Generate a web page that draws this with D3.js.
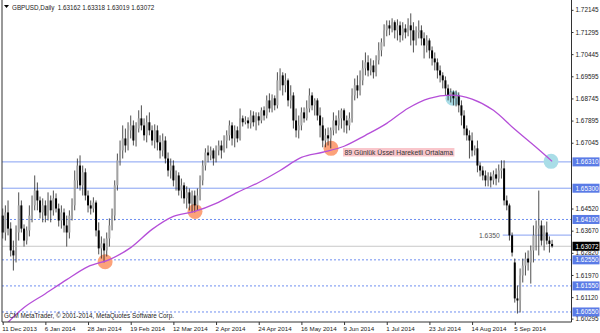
<!DOCTYPE html>
<html><head><meta charset="utf-8">
<script src="https://cdn.jsdelivr.net/npm/d3@7"></script>
<style>
body{margin:0;background:#fff}
svg{display:block;font-family:"Liberation Sans",Arial,sans-serif}
</style>
</head><body>
<svg id="chart" width="600" height="333"></svg>
<script>
// GBPUSD daily bars, 11 Dec 2013 .. late Sep 2014
const opens = [1.6425,1.6360,1.6437,1.6375,1.6291,1.6272,1.6360,1.6464,1.6375,1.6329,
  1.6368,1.6425,1.6464,1.6521,1.6483,1.6437,1.6464,1.6425,1.6483,1.6445,
  1.6491,1.6452,1.6406,1.6437,1.6387,1.6360,1.6425,1.6464,1.6560,1.6617,
  1.6541,1.6591,1.6502,1.6464,1.6452,1.6475,1.6368,1.6299,1.6318,1.6291,
  1.6337,1.6387,1.6425,1.6541,1.6637,1.6675,1.6721,1.6694,1.6752,1.6771,
  1.6713,1.6759,1.6798,1.6771,1.6733,1.6783,1.6752,1.6713,1.6752,1.6706,
  1.6675,1.6713,1.6644,1.6598,1.6617,1.6560,1.6579,1.6521,1.6541,1.6491,
  1.6514,1.6471,1.6502,1.6464,1.6502,1.6560,1.6617,1.6667,1.6656,1.6675,
  1.6644,1.6675,1.6694,1.6675,1.6713,1.6733,1.6771,1.6721,1.6752,1.6721,
  1.6798,1.6783,1.6790,1.6779,1.6809,1.6783,1.6806,1.6790,1.6829,1.6809,
  1.6867,1.6836,1.6875,1.6848,1.6944,1.6963,1.6925,1.6944,1.6867,1.6886,
  1.6790,1.6752,1.6771,1.6821,1.6798,1.6836,1.6886,1.6848,1.6867,1.6809,
  1.6771,1.6713,1.6733,1.6721,1.6752,1.6790,1.6771,1.6798,1.6829,1.6790,
  1.6771,1.6798,1.6886,1.6925,1.6905,1.6944,1.6990,1.7013,1.6982,1.7001,
  1.6975,1.7021,1.7059,1.7090,1.7136,1.7155,1.7143,1.7167,1.7136,1.7155,
  1.7117,1.7143,1.7128,1.7155,1.7136,1.7097,1.7128,1.7136,1.7105,1.7078,
  1.7097,1.7059,1.7028,1.7013,1.6982,1.6963,1.6944,1.6913,1.6886,1.6898,
  1.6875,1.6886,1.6848,1.6809,1.6759,1.6733,1.6713,1.6675,1.6683,1.6617,
  1.6598,1.6579,1.6560,1.6575,1.6560,1.6583,1.6567,1.6598,1.6606,1.6483,
  1.6464,1.6349,1.6245,1.6107,1.6099,1.6195,1.6233,1.6260,1.6245,1.6291,
  1.6349,1.6375,1.6387,1.6329,1.6360,1.6329,1.63162];
const highs = [1.6452,1.6464,1.6483,1.6399,1.6329,1.6387,1.6514,1.6483,1.6391,1.6383,
  1.6464,1.6502,1.6579,1.6552,1.6498,1.6491,1.6483,1.6514,1.6502,1.6521,
  1.6510,1.6471,1.6464,1.6452,1.6425,1.6445,1.6491,1.6598,1.6644,1.6656,
  1.6617,1.6606,1.6521,1.6483,1.6495,1.6483,1.6399,1.6345,1.6337,1.6360,
  1.6414,1.6452,1.6560,1.6663,1.6713,1.6771,1.6759,1.6783,1.6809,1.6790,
  1.6783,1.6829,1.6848,1.6798,1.6809,1.6821,1.6771,1.6775,1.6771,1.6733,
  1.6740,1.6729,1.6667,1.6644,1.6637,1.6598,1.6591,1.6567,1.6552,1.6537,
  1.6529,1.6521,1.6521,1.6529,1.6579,1.6637,1.6683,1.6694,1.6690,1.6683,
  1.6694,1.6713,1.6713,1.6733,1.6752,1.6790,1.6783,1.6771,1.6767,1.6836,
  1.6809,1.6806,1.6802,1.6829,1.6825,1.6821,1.6821,1.6840,1.6844,1.6886,
  1.6894,1.6890,1.6886,1.6975,1.6990,1.6975,1.6971,1.6951,1.6925,1.6898,
  1.6836,1.6809,1.6840,1.6840,1.6867,1.6913,1.6898,1.6875,1.6875,1.6840,
  1.6802,1.6759,1.6763,1.6763,1.6821,1.6809,1.6829,1.6836,1.6836,1.6809,
  1.6821,1.6913,1.6951,1.6963,1.6982,1.7021,1.7051,1.7040,1.7028,1.7021,
  1.7040,1.7090,1.7105,1.7159,1.7174,1.7174,1.7182,1.7174,1.7178,1.7170,
  1.7167,1.7159,1.7182,1.7201,1.7167,1.7151,1.7174,1.7155,1.7128,1.7117,
  1.7105,1.7074,1.7051,1.7028,1.7001,1.6975,1.6959,1.6928,1.6913,1.6905,
  1.6905,1.6898,1.6867,1.6829,1.6771,1.6752,1.6744,1.6694,1.6713,1.6629,
  1.6614,1.6598,1.6591,1.6591,1.6598,1.6606,1.6621,1.6637,1.6637,1.6502,
  1.6471,1.6360,1.6260,1.6157,1.6222,1.6260,1.6283,1.6291,1.6310,1.6387,
  1.6406,1.6521,1.6406,1.6387,1.6402,1.6345,1.63318];
const lows = [1.6337,1.6329,1.6349,1.6268,1.6214,1.6245,1.6329,1.6360,1.6306,1.6314,
  1.6345,1.6399,1.6445,1.6445,1.6414,1.6399,1.6399,1.6406,1.6399,1.6425,
  1.6437,1.6383,1.6375,1.6360,1.6306,1.6337,1.6406,1.6445,1.6529,1.6521,
  1.6502,1.6483,1.6437,1.6429,1.6437,1.6345,1.6276,1.6260,1.6245,1.6268,
  1.6306,1.6368,1.6406,1.6521,1.6617,1.6644,1.6667,1.6675,1.6721,1.6694,
  1.6690,1.6744,1.6752,1.6713,1.6706,1.6733,1.6694,1.6683,1.6675,1.6644,
  1.6652,1.6625,1.6575,1.6567,1.6537,1.6521,1.6502,1.6491,1.6471,1.6452,
  1.6445,1.6437,1.6437,1.6445,1.6483,1.6541,1.6598,1.6629,1.6637,1.6617,
  1.6629,1.6656,1.6644,1.6667,1.6683,1.6713,1.6694,1.6687,1.6706,1.6713,
  1.6767,1.6775,1.6759,1.6759,1.6767,1.6752,1.6771,1.6779,1.6790,1.6798,
  1.6821,1.6821,1.6829,1.6836,1.6905,1.6886,1.6898,1.6844,1.6836,1.6759,
  1.6725,1.6721,1.6752,1.6782,1.6790,1.6821,1.6829,1.6809,1.6790,1.6725,
  1.6687,1.6687,1.6694,1.6683,1.6733,1.6740,1.6752,1.6759,1.6744,1.6740,
  1.6752,1.6782,1.6867,1.6875,1.6886,1.6925,1.6963,1.6959,1.6963,1.6951,
  1.6959,1.7005,1.7036,1.7074,1.7113,1.7117,1.7128,1.7105,1.7097,1.7090,
  1.7097,1.7105,1.7113,1.7078,1.7051,1.7078,1.7105,1.7078,1.7028,1.7051,
  1.7028,1.7001,1.6982,1.6951,1.6936,1.6913,1.6886,1.6867,1.6859,1.6848,
  1.6844,1.6821,1.6771,1.6733,1.6713,1.6644,1.6652,1.6656,1.6591,1.6575,
  1.6560,1.6537,1.6537,1.6533,1.6544,1.6541,1.6552,1.6567,1.6464,1.6445,
  1.6329,1.6268,1.6091,1.6049,1.6053,1.6168,1.6195,1.6214,1.6164,1.6245,
  1.6291,1.6272,1.6310,1.6291,1.6314,1.6283,1.63019];
const closes = [1.6360,1.6437,1.6375,1.6291,1.6272,1.6360,1.6464,1.6375,1.6329,1.6368,
  1.6425,1.6464,1.6521,1.6483,1.6437,1.6464,1.6425,1.6483,1.6445,1.6491,
  1.6452,1.6406,1.6437,1.6387,1.6360,1.6425,1.6464,1.6560,1.6617,1.6541,
  1.6591,1.6502,1.6464,1.6452,1.6475,1.6368,1.6299,1.6318,1.6291,1.6337,
  1.6387,1.6425,1.6541,1.6637,1.6675,1.6721,1.6694,1.6752,1.6771,1.6713,
  1.6759,1.6798,1.6771,1.6733,1.6783,1.6752,1.6713,1.6752,1.6706,1.6675,
  1.6713,1.6644,1.6598,1.6617,1.6560,1.6579,1.6521,1.6541,1.6491,1.6514,
  1.6471,1.6502,1.6464,1.6502,1.6560,1.6617,1.6667,1.6656,1.6675,1.6644,
  1.6675,1.6694,1.6675,1.6713,1.6733,1.6771,1.6721,1.6752,1.6721,1.6798,
  1.6783,1.6790,1.6779,1.6809,1.6783,1.6806,1.6790,1.6829,1.6809,1.6867,
  1.6836,1.6875,1.6848,1.6944,1.6963,1.6925,1.6944,1.6867,1.6886,1.6790,
  1.6752,1.6771,1.6821,1.6798,1.6836,1.6886,1.6848,1.6867,1.6809,1.6771,
  1.6713,1.6733,1.6721,1.6752,1.6790,1.6771,1.6798,1.6829,1.6790,1.6771,
  1.6798,1.6886,1.6925,1.6905,1.6944,1.6990,1.7013,1.6982,1.7001,1.6975,
  1.7021,1.7059,1.7090,1.7136,1.7155,1.7143,1.7167,1.7136,1.7155,1.7117,
  1.7143,1.7128,1.7155,1.7136,1.7097,1.7128,1.7136,1.7105,1.7078,1.7097,
  1.7059,1.7028,1.7013,1.6982,1.6963,1.6944,1.6913,1.6886,1.6898,1.6875,
  1.6886,1.6848,1.6809,1.6759,1.6733,1.6713,1.6675,1.6683,1.6617,1.6598,
  1.6579,1.6560,1.6575,1.6560,1.6583,1.6567,1.6598,1.6606,1.6483,1.6464,
  1.6349,1.6283,1.6107,1.6099,1.6195,1.6233,1.6260,1.6245,1.6291,1.6349,
  1.6375,1.6387,1.6329,1.6360,1.6329,1.63162,1.63072];

const timeIdx = [0,16,32,48,64,80,96,112,128,144,160,176,192];
const timeLabels = ["11 Dec 2013","6 Jan 2014","28 Jan 2014","19 Feb 2014","12 Mar 2014","2 Apr 2014","24 Apr 2014","16 May 2014","9 Jun 2014","1 Jul 2014","23 Jul 2014","14 Aug 2014","5 Sep 2014"];
const priceTicks = [1.72145,1.71295,1.70445,1.69595,1.68745,1.67895,1.67045,1.66195,1.65345,1.64520,1.63670,1.62820,1.61970,1.61120,1.60295];

const solidLevels = [1.6631, 1.6530];
const dottedLevels = [1.6410, 1.6255, 1.6155, 1.6055];
const levelTags = [1.66310, 1.65300, 1.64100, 1.62550, 1.61550, 1.60550];
const shortLevel = 1.6350, shortFrom = 187.5;

// 89-day EMA
const emaIdx = [0,8,16,24,32,40,48,56,64,72,80,88,96,104,112,120,128,136,144,152,160,168,176,184,192,200,206];
const emaVal = [1.5995,1.6072,1.6125,1.6179,1.6229,1.6256,1.6302,1.6372,1.6422,1.6441,1.6472,1.6514,1.6552,1.6598,1.6648,1.6668,1.6691,1.6733,1.6779,1.6837,1.6875,1.6887,1.6872,1.6829,1.6756,1.6687,1.6633];

const markIdx = [38.4, 72.1, 123.1, 168.8, 205.6];
const markPrice = [1.6248, 1.6441, 1.6683, 1.6875, 1.6633];
const markColor = ["#fca27a","#fca27a","#fca27a","#a9dde7","#a9dde7"];

const bars = closes.map((c, i) => ({i, o: opens[i], h: highs[i], l: lows[i], c}));
const last = bars[bars.length - 1];

const svg = d3.select("#chart");
const W = 600, H = 333;
const left = 2, right = 571.5, plotTop = 0, bottom = 322;
const FONT = "Liberation Sans, Arial, sans-serif";

const x = d3.scaleLinear().domain([0, 213]).range([2.7, 2.7 + 213*2.667]);
const y = d3.scaleLinear().domain([1.60165, 1.72485]).range([bottom, 1]);

svg.append("rect").attr("width", W).attr("height", H).attr("fill", "#fff");
svg.append("clipPath").attr("id", "plot")
  .append("rect").attr("x", left).attr("y", plotTop)
  .attr("width", right - left).attr("height", bottom - plotTop);

// price levels
svg.selectAll("line.solid").data(solidLevels).join("line")
  .attr("x1", left).attr("x2", right)
  .attr("y1", d => y(d)).attr("y2", d => y(d))
  .attr("stroke", "#86a0f2").attr("stroke-width", 1);
svg.selectAll("line.dot").data(dottedLevels).join("line")
  .attr("x1", left).attr("x2", right)
  .attr("y1", d => y(d)).attr("y2", d => y(d))
  .attr("stroke", "#6f8ff0").attr("stroke-width", 1).attr("stroke-dasharray", "2,2");
svg.append("line")
  .attr("x1", x(shortFrom)).attr("x2", right)
  .attr("y1", y(shortLevel)).attr("y2", y(shortLevel))
  .attr("stroke", "#86a0f2");
svg.append("text").attr("x", x(shortFrom) - 3).attr("y", y(shortLevel) + 2.5)
  .attr("text-anchor", "end").attr("font-size", 6.8).attr("fill", "#555")
  .text(shortLevel.toFixed(4));

// current price line
svg.append("line")
  .attr("x1", left).attr("x2", right)
  .attr("y1", y(last.c)).attr("y2", y(last.c))
  .attr("stroke", "#c8c8c8");

// marker circles
svg.selectAll("circle.mark").data(markIdx).join("circle")
  .attr("cx", d => x(d)).attr("cy", (d, k) => y(markPrice[k]))
  .attr("r", 7.5).attr("fill", (d, k) => markColor[k]);

// candles
const g = svg.append("g");
g.selectAll("line.wick").data(bars).join("line")
  .attr("x1", d => x(d.i)).attr("x2", d => x(d.i))
  .attr("y1", d => y(d.h)).attr("y2", d => y(d.l))
  .attr("stroke", "#222").attr("stroke-width", 0.8);
g.selectAll("rect.body").data(bars).join("rect")
  .attr("x", d => x(d.i) - 1).attr("width", 2)
  .attr("y", d => y(Math.max(d.o, d.c)))
  .attr("height", d => Math.max(0.7, Math.abs(y(d.o) - y(d.c))))
  .attr("fill", d => d.c >= d.o ? "#a3a3a3" : "#000");

// EMA
svg.append("path")
  .datum(emaIdx.map((d, k) => [d, emaVal[k]]))
  .attr("clip-path", "url(#plot)")
  .attr("d", d3.line().x(d => x(d[0])).y(d => y(d[1])).curve(d3.curveMonotoneX))
  .attr("fill", "none").attr("stroke", "#b54fd8").attr("stroke-width", 1.3);

// EMA label
const lbl = svg.append("g").attr("transform", `translate(343,148)`);
const lblRect = lbl.append("rect").attr("height", 8.5).attr("fill", "#f9c6cb");
const lblText = lbl.append("text").attr("x", 1.5).attr("y", 6.8).attr("font-size", 6.8).attr("fill", "#333")
  .text("89 Günlük Üssel Hareketli Ortalama");
lblRect.attr("width", lblText.node().getComputedTextLength() + 3);

// frame
svg.append("path")
  .attr("d", `M${left},${plotTop}V${bottom}H${right}V${plotTop}`)
  .attr("fill", "none").attr("stroke", "#333").attr("stroke-width", 1);

// time axis
const xAxis = svg.append("g").attr("transform", `translate(0,${bottom})`)
  .call(d3.axisBottom(x).tickValues(timeIdx).tickSize(3)
    .tickFormat((d, k) => timeLabels[k]));
xAxis.select(".domain").remove();
xAxis.selectAll("line").attr("stroke", "#333");
xAxis.selectAll("text").attr("text-anchor", "start").attr("dx", "-1")
  .attr("y", 4.5).attr("font-size", 6.2).attr("fill", "#222")
  .attr("font-family", FONT);

// price axis (labels sitting under a level tag are hidden by it)
const tagY = levelTags.concat([last.c]).map(d => y(d));
const visibleTicks = priceTicks.filter(p => tagY.every(t => Math.abs(y(p) - t) > 4.5));
const yAxis = svg.append("g").attr("transform", `translate(${right},0)`)
  .call(d3.axisRight(y).tickValues(visibleTicks).tickSize(2)
    .tickFormat(d => d.toFixed(5)));
yAxis.select(".domain").remove();
yAxis.selectAll("line").attr("stroke", "#333");
yAxis.selectAll("text").attr("x", 4).attr("font-size", 6.4).attr("fill", "#222")
  .attr("font-family", FONT);

// level tags
const tags = svg.selectAll("g.tag").data(levelTags).join("g")
  .attr("transform", d => `translate(${right + 1},${y(d) - 4.5})`);
tags.append("rect").attr("width", 27).attr("height", 9).attr("fill", "#5a7be6");
tags.append("text").attr("x", 3).attr("y", 6.8).attr("font-size", 6.4).attr("fill", "#fff")
  .text(d => d.toFixed(5));
const cur = svg.append("g").attr("transform", `translate(${right + 1},${y(last.c) - 4.5})`);
cur.append("rect").attr("width", 27).attr("height", 9).attr("fill", "#000");
cur.append("text").attr("x", 3).attr("y", 6.8).attr("font-size", 6.4).attr("fill", "#fff")
  .text(last.c.toFixed(5));

// header
svg.append("path").attr("d", "M4,5h5l-2.5,3z").attr("fill", "#000");
svg.append("text").attr("x", 12).attr("y", 9.5).attr("font-size", 6.3).attr("fill", "#222")
  .attr("xml:space", "preserve")
  .text(`GBPUSD,Daily  ${last.o.toFixed(5)} ${last.h.toFixed(5)} ${last.l.toFixed(5)} ${last.c.toFixed(5)}`);
svg.append("text").attr("x", 4).attr("y", 318).attr("font-size", 6.3).attr("fill", "#222")
  .text("GCM MetaTrader, © 2001-2014, MetaQuotes Software Corp.");
</script>
</body></html>
